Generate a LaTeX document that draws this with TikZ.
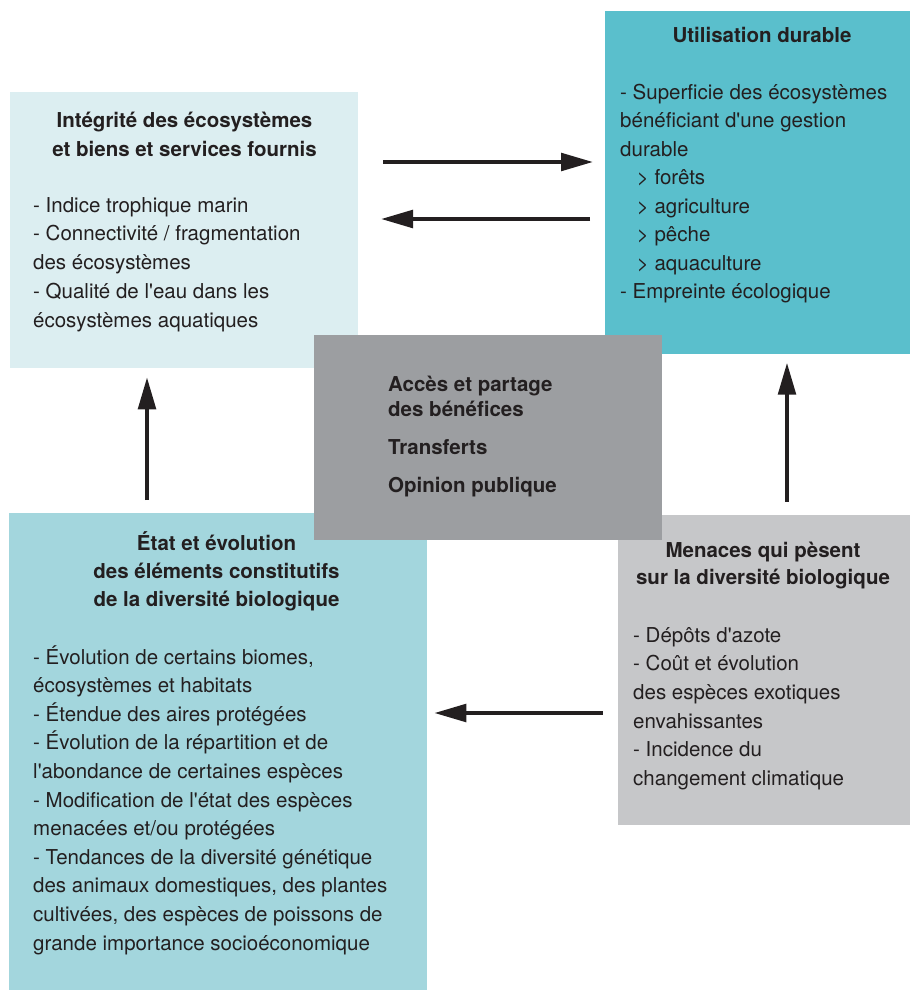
\documentclass[tikz,border=0pt]{standalone}
\usepackage{fontspec}
\setmainfont{TeX Gyre Heros}[Ligatures=TeXOff]
\usetikzlibrary{arrows.meta}

\definecolor{ink}{HTML}{231F20}
\definecolor{paleteal}{HTML}{DCEEF1}
\definecolor{deepteal}{HTML}{5ABFCC}
\definecolor{midteal}{HTML}{A3D6DD}
\definecolor{darkgrey}{HTML}{9C9EA1}
\definecolor{lightgrey}{HTML}{C6C7C9}

\tikzset{
  panel/.style={draw=none, inner sep=0pt, outer sep=0pt, anchor=north west},
  head/.style={inner sep=0pt, anchor=north, align=center, text=ink,
    font=\fontsize{20.5}{28.3}\selectfont\bfseries},
  body/.style={inner sep=0pt, anchor=north west, align=left, text=ink,
    font=\fontsize{20.5}{28.7}\selectfont},
  centre/.style={inner sep=0pt, align=left, text=ink,
    font=\fontsize{20.5}{24.3}\selectfont\bfseries},
  flow/.style={line width=4pt, draw=ink, -{Triangle[length=32pt,width=17.5pt]}}
}

\begin{document}
\begin{tikzpicture}[x=1pt, y=-1pt]
  \useasboundingbox (0,0) rectangle (910,990);

  % coloured panels
  \node[panel, fill=paleteal,  minimum width=348pt, minimum height=276pt] (integ) at (10,92) {};
  \node[panel, fill=deepteal,  minimum width=305pt, minimum height=343pt] (usage) at (605,11) {};
  \node[panel, fill=midteal,   minimum width=418pt, minimum height=477pt] (etat)  at (9,513) {};
  \node[panel, fill=lightgrey, minimum width=292pt, minimum height=310pt] (menace) at (618,515) {};
  \node[panel, fill=darkgrey,  minimum width=348pt, minimum height=205pt] (centrebox) at (314,335) {};

  % Intégrité des écosystèmes
  \node[head] (integT) at (184.5,107.7) {\strut Intégrité des écosystèmes\\et biens et services fournis};
  \node[body] (integB) at (33,192) {\strut - Indice trophique marin\\
    - Connectivité / fragmentation\\des écosystèmes\\
    - Qualité de l'eau dans les\\écosystèmes aquatiques};

  % Utilisation durable
  \node[head] (usageT) at (762,22.9) {\strut Utilisation durable};
  \node[body, font=\fontsize{20.5}{28.5}\selectfont] (usageB) at (620,79)
    {\strut - Superficie des écosystèmes\\bénéficiant d'une gestion\\durable\\
     \hspace*{16.7pt}> forêts\\\hspace*{16.7pt}> agriculture\\
     \hspace*{16.7pt}> pêche\\\hspace*{16.7pt}> aquaculture\\
     - Empreinte écologique};

  % État et évolution
  \node[head] (etatT) at (216.5,530.2) {\strut État et évolution\\des éléments constitutifs\\de la diversité biologique};
  \node[body, font=\fontsize{20.5}{28.6}\selectfont] (etatB) at (33,643.9)
    {\strut - Évolution de certains biomes,\\écosystèmes et habitats\\
     - Étendue des aires protégées\\
     - Évolution de la répartition et de\\l'abondance de certaines espèces\\
     - Modification de l'état des espèces\\menacées et/ou protégées\\
     - Tendances de la diversité génétique\\des animaux domestiques, des plantes\\
     cultivées, des espèces de poissons de\\grande importance socioéconomique};

  % Menaces
  \node[head, font=\fontsize{20.5}{27.5}\selectfont\bfseries] (menaceT) at (763,537.6)
    {\strut Menaces qui pèsent\\sur la diversité biologique};
  \node[body, font=\fontsize{20.5}{28.6}\selectfont] (menaceB) at (633,622)
    {\strut - Dépôts d'azote\\- Coût et évolution\\des espèces exotiques\\envahissantes\\
     - Incidence du\\changement climatique};

  % central panel
  \node[centre, anchor=north west] (acces) at (388,374.7) {\strut Accès et partage\\des bénéfices};
  \node[centre, anchor=base west] (transf) at (388,454) {Transferts};
  \node[centre, anchor=base west] (opinion) at (388,492.7) {Opinion publique};

  % arrow ends
  \coordinate (r1s) at (383,162);   \coordinate (r1e) at (593,162);
  \coordinate (l1s) at (590,219);   \coordinate (l1e) at (381,219);
  \coordinate (u1s) at (147,500);   \coordinate (u1e) at (147,377.3);
  \coordinate (u2s) at (787,501.7); \coordinate (u2e) at (787,362.7);
  \coordinate (l2s) at (602.7,713); \coordinate (l2e) at (434.3,713);

  \draw[flow] (r1s) -- (r1e);
  \draw[flow] (l1s) -- (l1e);
  \draw[flow] (u1s) -- (u1e);
  \draw[flow] (u2s) -- (u2e);
  \draw[flow] (l2s) -- (l2e);
\end{tikzpicture}
\end{document}
